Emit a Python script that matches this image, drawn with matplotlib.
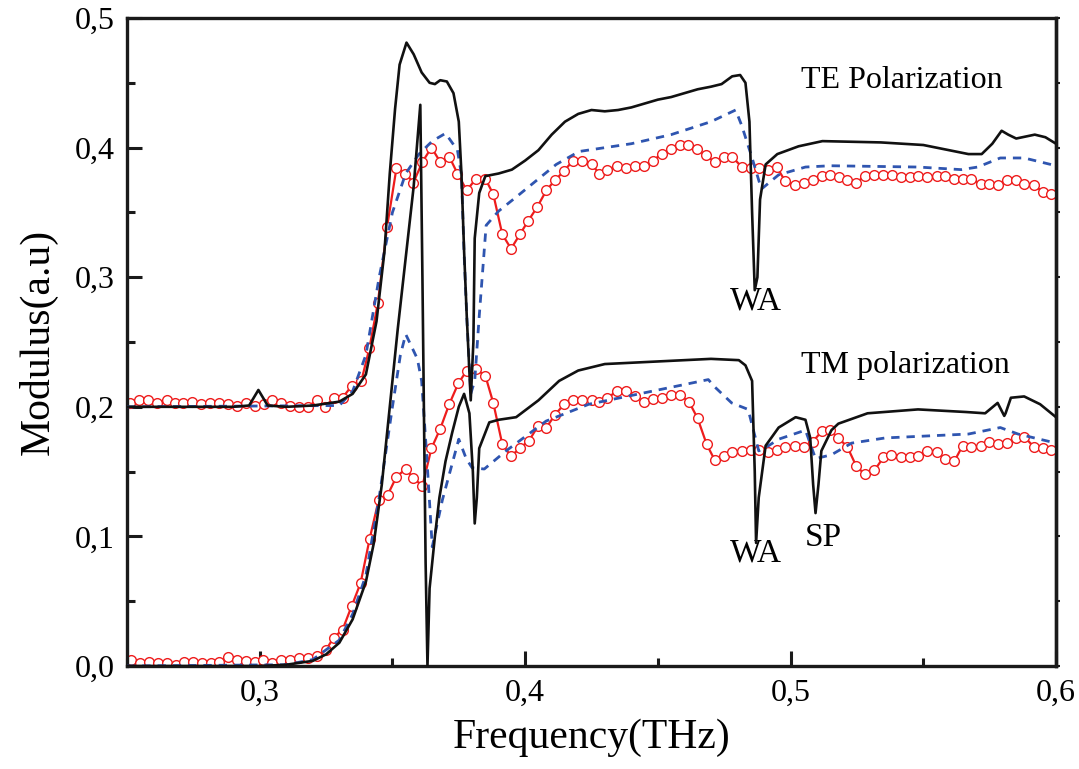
import matplotlib
matplotlib.use('Agg')
import matplotlib.pyplot as plt
from matplotlib.ticker import MultipleLocator, FuncFormatter

plt.rcParams['font.family'] = ['Liberation Serif', 'DejaVu Serif']

# TE polarization (upper curves)
te_black_x = [0.25, 0.29, 0.296, 0.2995, 0.303, 0.31, 0.32, 0.33, 0.335, 0.34, 0.344, 0.347, 0.349,
              0.351, 0.3527, 0.3553, 0.358, 0.361, 0.364, 0.366, 0.368, 0.3705, 0.373, 0.375, 0.376,
              0.377, 0.378, 0.3795, 0.3805, 0.381, 0.3827, 0.385, 0.39, 0.395, 0.40, 0.405, 0.41,
              0.415, 0.42, 0.425, 0.43, 0.435, 0.44, 0.445, 0.45, 0.455, 0.46, 0.465, 0.47, 0.474,
              0.478, 0.481, 0.483, 0.4845, 0.4855, 0.4865, 0.4875, 0.4885, 0.4906, 0.495, 0.503,
              0.512, 0.534, 0.55, 0.567, 0.572, 0.576, 0.5795, 0.582, 0.585, 0.592, 0.596, 0.60]
te_black_y = [0.200, 0.200, 0.201, 0.213, 0.201, 0.200, 0.201, 0.204, 0.210, 0.225, 0.266, 0.32, 0.38,
              0.43, 0.464, 0.481, 0.472, 0.458, 0.450, 0.449, 0.452, 0.451, 0.442, 0.42, 0.38,
              0.32, 0.27, 0.205, 0.25, 0.33, 0.365, 0.378, 0.380, 0.383, 0.390, 0.398, 0.41,
              0.42, 0.426, 0.429, 0.428, 0.429, 0.431, 0.434, 0.437, 0.439, 0.442, 0.445, 0.447, 0.449,
              0.455, 0.456, 0.45, 0.42, 0.35, 0.29, 0.30, 0.36, 0.387, 0.395, 0.401,
              0.405, 0.404, 0.402, 0.395, 0.395, 0.403, 0.413, 0.410, 0.407, 0.410, 0.408, 0.403]

te_blue_x = [0.25, 0.33, 0.335, 0.34, 0.345, 0.35, 0.355, 0.36, 0.365, 0.370, 0.3745, 0.376, 0.377,
             0.378, 0.3795, 0.381, 0.3827, 0.3853, 0.39, 0.3967, 0.4027, 0.4117, 0.4203, 0.44,
             0.455, 0.47, 0.4793, 0.4816, 0.4855, 0.489, 0.4955, 0.5056, 0.515, 0.548, 0.5643,
             0.5705, 0.579, 0.588, 0.60]
te_blue_y = [0.200, 0.201, 0.212, 0.24, 0.30, 0.35, 0.38, 0.395, 0.405, 0.411, 0.398, 0.379, 0.318,
             0.27, 0.21, 0.22, 0.27, 0.34, 0.351, 0.362, 0.372, 0.387, 0.397, 0.403,
             0.41, 0.42, 0.429, 0.417, 0.392, 0.368, 0.379, 0.385, 0.386, 0.385, 0.383,
             0.385, 0.392, 0.392, 0.386]

te_red_x = [0.2511, 0.2546, 0.2580, 0.2614, 0.2649, 0.2680, 0.2712, 0.2745, 0.2780, 0.2812, 0.2846,
            0.2879, 0.2913, 0.2948, 0.2981, 0.3015, 0.3048, 0.3082, 0.3114, 0.3148, 0.3182, 0.3214,
            0.3245, 0.3281, 0.3312, 0.3346, 0.3383, 0.3413, 0.3445, 0.3480, 0.3515, 0.3549, 0.3579,
            0.3613, 0.3647, 0.3680, 0.3714, 0.3745, 0.3780, 0.3815, 0.3850, 0.3880, 0.3914, 0.3947,
            0.3980, 0.4010, 0.4045, 0.4080, 0.4113, 0.4147, 0.4180, 0.4215, 0.4250, 0.4280, 0.4310,
            0.4346, 0.4380, 0.4413, 0.4447, 0.4480, 0.4515, 0.4550, 0.4583, 0.4614, 0.4647, 0.4680,
            0.4714, 0.4748, 0.4780, 0.4816, 0.4850, 0.4880, 0.4914, 0.4948, 0.4980, 0.5015, 0.5050,
            0.5083, 0.5117, 0.5150, 0.5184, 0.5214, 0.5248, 0.5280, 0.5316, 0.5350, 0.5383, 0.5417,
            0.5450, 0.5480, 0.5515, 0.5550, 0.5583, 0.5617, 0.5650, 0.5680, 0.5716, 0.5748, 0.5780,
            0.5816, 0.5850, 0.5880, 0.5917, 0.5950, 0.5980]
te_red_y = [0.203, 0.205, 0.205, 0.203, 0.205, 0.203, 0.203, 0.204, 0.202, 0.203, 0.203,
            0.202, 0.201, 0.203, 0.201, 0.202, 0.205, 0.203, 0.201, 0.200, 0.200, 0.205,
            0.200, 0.207, 0.207, 0.216, 0.220, 0.245, 0.280, 0.339, 0.384, 0.380, 0.373,
            0.389, 0.400, 0.389, 0.393, 0.380, 0.367, 0.376, 0.376, 0.364, 0.333, 0.322,
            0.333, 0.343, 0.354, 0.367, 0.375, 0.382, 0.390, 0.390, 0.387, 0.380, 0.383,
            0.386, 0.384, 0.386, 0.386, 0.390, 0.395, 0.399, 0.402, 0.402, 0.399, 0.394,
            0.389, 0.393, 0.393, 0.385, 0.384, 0.384, 0.383, 0.385, 0.374, 0.371, 0.373,
            0.375, 0.378, 0.379, 0.377, 0.375, 0.373, 0.378, 0.379, 0.379, 0.379, 0.377,
            0.377, 0.378, 0.377, 0.378, 0.378, 0.376, 0.376, 0.376, 0.372, 0.372, 0.371,
            0.375, 0.375, 0.372, 0.371, 0.366, 0.364]

# TM polarization (lower curves)
tm_black_x = [0.25, 0.30, 0.31, 0.32, 0.325, 0.33, 0.335, 0.34, 0.343, 0.346, 0.349, 0.352, 0.355,
              0.358, 0.3605, 0.3613, 0.3625, 0.3632, 0.364, 0.366, 0.3677, 0.370, 0.3725, 0.375,
              0.377, 0.379, 0.3803, 0.381, 0.3818, 0.3827, 0.3865, 0.39, 0.3966, 0.405, 0.4128,
              0.42, 0.43, 0.44, 0.45, 0.46, 0.47, 0.4805, 0.483, 0.4855, 0.4865, 0.487, 0.488,
              0.4906, 0.4955, 0.5019, 0.5056, 0.5074, 0.5085, 0.5094, 0.5105, 0.5116, 0.5154,
              0.518, 0.529, 0.548, 0.566, 0.5733, 0.578, 0.5805, 0.581, 0.583, 0.588, 0.594, 0.60]
tm_black_y = [0.000, 0.000, 0.001, 0.004, 0.009, 0.018, 0.036, 0.065, 0.095, 0.14, 0.20, 0.26, 0.315,
              0.37, 0.433, 0.30, 0.08, 0.0, 0.06, 0.10, 0.13, 0.158, 0.18, 0.200,
              0.21, 0.195, 0.15, 0.11, 0.13, 0.168, 0.188, 0.190, 0.192, 0.205, 0.22,
              0.228, 0.233, 0.234, 0.235, 0.236, 0.237, 0.236, 0.232, 0.22, 0.15, 0.095, 0.13,
              0.17, 0.184, 0.192, 0.19, 0.176, 0.14, 0.118, 0.14, 0.166, 0.182,
              0.187, 0.195, 0.198, 0.196, 0.195, 0.203, 0.193, 0.195, 0.207, 0.208, 0.202, 0.192]

tm_blue_x = [0.25, 0.31, 0.32, 0.33, 0.335, 0.34, 0.345, 0.35, 0.353, 0.355, 0.3594, 0.361, 0.3628,
             0.365, 0.3688, 0.375, 0.3778, 0.38, 0.3846, 0.3928, 0.4079, 0.424, 0.443, 0.469,
             0.4716, 0.4778, 0.484, 0.488, 0.4917, 0.4955, 0.5056, 0.5094, 0.5154, 0.523, 0.5357,
             0.567, 0.579, 0.5857, 0.60]
tm_blue_y = [0.000, 0.001, 0.005, 0.02, 0.04, 0.07, 0.13, 0.2, 0.24, 0.256, 0.237, 0.22, 0.166,
             0.092, 0.128, 0.175, 0.16, 0.153, 0.152, 0.166, 0.189, 0.202, 0.21, 0.221,
             0.215, 0.203, 0.198, 0.166, 0.17, 0.175, 0.182, 0.16, 0.163, 0.172, 0.176,
             0.179, 0.184, 0.179, 0.172]

tm_red_x = [0.2515, 0.2549, 0.2583, 0.2617, 0.2649, 0.2683, 0.2716, 0.2749, 0.2783, 0.2815, 0.2847,
            0.2881, 0.2915, 0.2947, 0.2981, 0.3013, 0.3048, 0.3082, 0.3113, 0.3148, 0.3182, 0.3214,
            0.3248, 0.3279, 0.3312, 0.3346, 0.3380, 0.3414, 0.3448, 0.3482, 0.3515, 0.3550, 0.3579,
            0.3613, 0.3647, 0.3680, 0.3714, 0.3748, 0.3780, 0.3815, 0.3850, 0.3880, 0.3914, 0.3947,
            0.3980, 0.4015, 0.4048, 0.4080, 0.4113, 0.4147, 0.4180, 0.4215, 0.4250, 0.4280, 0.4310,
            0.4346, 0.4380, 0.4413, 0.4447, 0.4480, 0.4515, 0.4550, 0.4583, 0.4617, 0.4650, 0.4684,
            0.4714, 0.4748, 0.4780, 0.4816, 0.4850, 0.4880, 0.4914, 0.4948, 0.4980, 0.5015, 0.5050,
            0.5083, 0.5117, 0.5147, 0.5180, 0.5214, 0.5248, 0.5280, 0.5316, 0.5350, 0.5380, 0.5417,
            0.5450, 0.5480, 0.5515, 0.5550, 0.5583, 0.5617, 0.5648, 0.5680, 0.5716, 0.5748, 0.5780,
            0.5816, 0.5850, 0.5880, 0.5917, 0.5950, 0.5980]
tm_red_y = [0.005, 0.002, 0.003, 0.002, 0.002, 0.001, 0.003, 0.003, 0.002, 0.002, 0.003,
            0.007, 0.005, 0.004, 0.003, 0.005, 0.002, 0.005, 0.005, 0.006, 0.006, 0.008,
            0.012, 0.022, 0.028, 0.046, 0.064, 0.098, 0.128, 0.132, 0.146, 0.152, 0.145,
            0.139, 0.168, 0.183, 0.202, 0.218, 0.228, 0.229, 0.224, 0.203, 0.171, 0.162,
            0.168, 0.174, 0.185, 0.184, 0.194, 0.202, 0.205, 0.205, 0.205, 0.204, 0.207,
            0.212, 0.212, 0.208, 0.204, 0.206, 0.207, 0.209, 0.209, 0.204, 0.191, 0.171,
            0.159, 0.162, 0.165, 0.166, 0.167, 0.167, 0.165, 0.167, 0.169, 0.170, 0.169,
            0.173, 0.181, 0.182, 0.176, 0.169, 0.154, 0.148, 0.151, 0.161, 0.163, 0.161,
            0.161, 0.162, 0.166, 0.165, 0.160, 0.158, 0.170, 0.169, 0.170, 0.173, 0.171,
            0.172, 0.176, 0.177, 0.169, 0.168, 0.167]

blue = '#2f55b0'
red = '#ee1c1c'
dark = '#1a1a1a'

fig = plt.figure(figsize=(10.79, 7.69), dpi=100)
ax = fig.add_axes([0.1177, 0.1339, 0.861, 0.8427])

for bx, by, lx, ly, rx, ry in [(te_black_x, te_black_y, te_blue_x, te_blue_y, te_red_x, te_red_y),
                               (tm_black_x, tm_black_y, tm_blue_x, tm_blue_y, tm_red_x, tm_red_y)]:
    ax.plot(rx, ry, color=red, lw=1.6, marker='o', ms=7, mfc='white', mec=red, mew=1.0, zorder=2)
    ax.plot(lx, ly, color=blue, lw=2.0, ls=(0, (3.0, 2.5)), zorder=3)
    ax.plot(bx, by, color='#111111', lw=1.9, zorder=4)

ax.set_xlim(0.25, 0.6)
ax.set_ylim(0.0, 0.5)
ax.xaxis.set_major_locator(MultipleLocator(0.1))
ax.xaxis.set_minor_locator(MultipleLocator(0.05))
ax.yaxis.set_major_locator(MultipleLocator(0.1))
ax.yaxis.set_minor_locator(MultipleLocator(0.05))
comma = FuncFormatter(lambda v, p: f"{v:.1f}".replace('.', ','))
ax.xaxis.set_major_formatter(comma)
ax.yaxis.set_major_formatter(comma)
ax.tick_params(which='both', direction='in', width=2.2, labelsize=23, color=dark)
ax.tick_params(which='major', length=11, pad=9)
ax.tick_params(which='minor', length=6)

# small outward marks on the right spine
ax_r = ax.secondary_yaxis('right')
ax_r.yaxis.set_major_locator(MultipleLocator(0.05))
ax_r.tick_params(direction='out', length=3, width=1.5, labelright=False, color=dark)

for side in ['left', 'bottom', 'right', 'top']:
    ax.spines[side].set_linewidth(2.4)
    ax.spines[side].set_color(dark)
ax_r.spines['right'].set_linewidth(2.4)
ax_r.spines['right'].set_color(dark)

ax.set_xlabel('Frequency(THz)', fontsize=30, labelpad=8)
ax.set_ylabel('Modulus(a.u)', fontsize=30, labelpad=12)

ax.text(0.504, 0.452, 'TE Polarization', fontsize=23, va='center', ha='left')
ax.text(0.504, 0.2315, 'TM polarization', fontsize=23, va='center', ha='left')
ax.text(0.487, 0.2815, 'WA', fontsize=24, va='center', ha='center')
ax.text(0.487, 0.087, 'WA', fontsize=24, va='center', ha='center')
ax.text(0.5125, 0.099, 'SP', fontsize=24, va='center', ha='center')

fig.savefig('out.png', dpi=100)
